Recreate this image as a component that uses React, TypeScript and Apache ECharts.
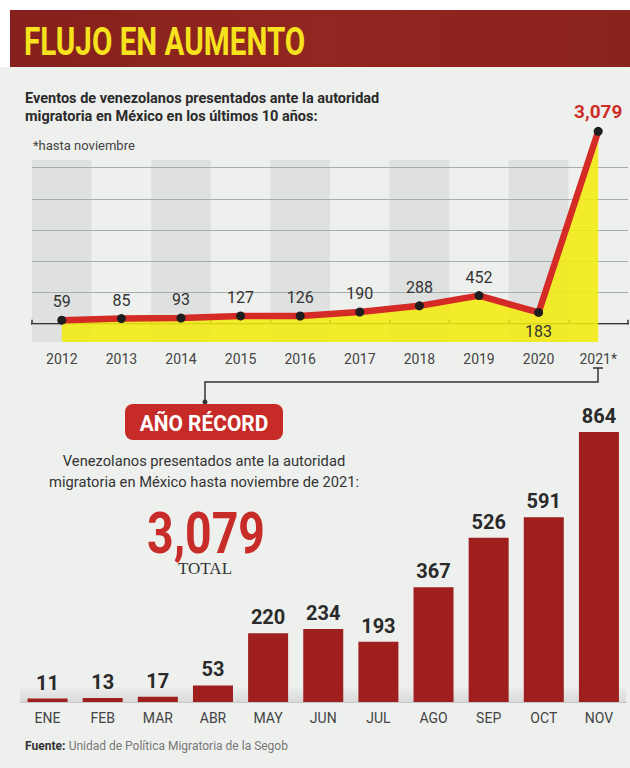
import React, { useEffect, useRef } from "react";
import * as echarts from "echarts";

const years = ["2012", "2013", "2014", "2015", "2016", "2017", "2018", "2019", "2020", "2021*"];
const yearValues = [59, 85, 93, 127, 126, 190, 288, 452, 183, 3079];
const months = ["ENE", "FEB", "MAR", "ABR", "MAY", "JUN", "JUL", "AGO", "SEP", "OCT", "NOV"];
const monthValues = [11, 13, 17, 53, 220, 234, 193, 367, 526, 591, 864];
const gridValues = [0, 500, 1000, 1500, 2000, 2500];

const SANS = "Roboto, 'Open Sans', sans-serif";

function txt(x: number, y: number, text: string, opts: any = {}, extra: any = {}) {
  const { align = "left", vAlign = "middle", ...rest } = opts;
  return {
    type: "text",
    x,
    y,
    ...extra,
    style: {
      text,
      fontFamily: SANS,
      align,
      textAlign: align,
      verticalAlign: vAlign,
      textVerticalAlign: vAlign,
      ...rest,
    },
  };
}

export default function App() {
  const ref = useRef<HTMLDivElement>(null);
  useEffect(() => {
    if (!ref.current) return;
    const chart = echarts.init(ref.current, null, { renderer: "svg", width: 630, height: 768 });
    const fmt = (p: any) => Number(p.value).toLocaleString("en-US");
    const lineData = yearValues.map((v, i) => {
      if (i === 8) return { value: v, label: { position: "bottom", distance: 7 } };
      if (i === yearValues.length - 1)
        return { value: v, label: { color: "#cf2e29", fontWeight: "bold", fontSize: 19, distance: 6 } };
      return v;
    });
    const option: any = {
      animation: false,
      backgroundColor: "#eef0ee",
      graphic: {
        elements: [
          { type: "rect", shape: { x: 0, y: 0, width: 630, height: 10 }, style: { fill: "#ffffff" } },
          { type: "rect", shape: { x: 0, y: 0, width: 10, height: 67 }, style: { fill: "#ffffff" } },
          {
            type: "rect",
            shape: { x: 10, y: 10, width: 620, height: 57 },
            style: {
              fill: new echarts.graphic.LinearGradient(0, 0, 1, 0, [
                { offset: 0, color: "#85201c" },
                { offset: 0.5, color: "#922620" },
                { offset: 1, color: "#8a221e" },
              ]),
            },
          },
          txt(24, 41, "FLUJO EN AUMENTO", { fill: "#f6e21d", fontSize: 39, fontWeight: "bold" }, { scaleX: 0.76 }),
          txt(25, 98, "Eventos de venezolanos presentados ante la autoridad", { fill: "#2b2b2b", fontSize: 14.5, fontWeight: "bold" }, { scaleX: 1 }),
          txt(25, 116, "migratoria en México en los últimos 10 años:", { fill: "#2b2b2b", fontSize: 14.5, fontWeight: "bold" }),
          txt(33, 145, "*hasta noviembre", { fill: "#444", fontSize: 13 }),
          {
            type: "polyline",
            shape: { points: [[598, 368], [598, 382], [205, 382], [205, 403]] },
            style: { stroke: "#333", lineWidth: 1.5, fill: null },
          },
          { type: "line", shape: { x1: 593, y1: 368, x2: 603, y2: 368 }, style: { stroke: "#333", lineWidth: 1.5 } },
          { type: "circle", shape: { cx: 205, cy: 402, r: 2.5 }, style: { fill: "#333" } },
          { type: "rect", shape: { x: 125, y: 404, width: 158, height: 36, r: 8 }, style: { fill: "#c62b28" } },
          txt(204, 423, "AÑO RÉCORD", { align: "center", fill: "#ffffff", fontSize: 22, fontWeight: "bold" }, { scaleX: 0.95 }),
          txt(204, 461, "Venezolanos presentados ante la autoridad", { align: "center", fill: "#333", fontSize: 14.7 }),
          txt(204, 482, "migratoria en México hasta noviembre de 2021:", { align: "center", fill: "#333", fontSize: 14.7 }),
          txt(206, 533, "3,079", { align: "center", fill: "#c72c28", fontSize: 58, fontWeight: "bold" }, { scaleX: 0.8 }),
          txt(205, 568, "TOTAL", { align: "center", fill: "#333", fontSize: 17, fontFamily: "'Liberation Serif', 'DejaVu Serif', serif" }),
          {
            type: "rect",
            shape: { x: 20, y: 686, width: 606, height: 16 },
            style: {
              fill: new echarts.graphic.LinearGradient(0, 0, 0, 1, [
                { offset: 0, color: "rgba(150,150,150,0)" },
                { offset: 1, color: "rgba(150,150,150,0.25)" },
              ]),
            },
          },
          {
            type: "text",
            x: 25,
            y: 746,
            style: {
              text: "{b|Fuente:} {n|Unidad de Política Migratoria de la Segob}",
              verticalAlign: "middle",
              textVerticalAlign: "middle",
              rich: {
                b: { fontFamily: SANS, fontSize: 12, fontWeight: "bold", fill: "#333", color: "#333" },
                n: { fontFamily: SANS, fontSize: 12, fill: "#777", color: "#777" },
              },
            },
          },
        ],
      },
      grid: [
        { left: 32, right: 2, top: 160, bottom: 426 },
        { left: 20, right: 3.5, top: 389.5, bottom: 66 },
      ],
      xAxis: [
        {
          type: "category",
          gridIndex: 0,
          data: years,
          axisLine: { lineStyle: { color: "#333", width: 2 } },
          axisTick: { show: true, inside: true, length: 4, lineStyle: { color: "#333", width: 1.5 } },
          axisLabel: { color: "#444", fontSize: 14, fontFamily: SANS, margin: 10 },
          splitArea: { show: true, areaStyle: { color: ["#dee1e0", "rgba(0,0,0,0)"] } },
          splitLine: { show: false },
        },
        {
          type: "category",
          gridIndex: 1,
          data: months,
          axisLine: { lineStyle: { color: "#c4c7c6", width: 1 } },
          axisTick: { show: false },
          axisLabel: { color: "#444", fontSize: 14, fontFamily: SANS, margin: 9 },
        },
      ],
      yAxis: [
        { type: "value", gridIndex: 0, min: -290, max: 2620, show: false, splitLine: { show: false } },
        { type: "value", gridIndex: 1, min: 0, max: 1000, show: false, splitLine: { show: false } },
      ],
      series: [
        {
          type: "line",
          xAxisIndex: 0,
          yAxisIndex: 0,
          data: lineData,
          clip: false,
          z: 3,
          symbol: "circle",
          symbolSize: 9,
          showSymbol: true,
          itemStyle: { color: "#1e1e1e", borderWidth: 0 },
          lineStyle: { color: "#d52b27", width: 6.5 },
          areaStyle: { color: "#f3ea10", opacity: 0.88, origin: "start" },
          label: {
            show: true,
            position: "top",
            distance: 6,
            color: "#333",
            fontSize: 16,
            fontFamily: SANS,
            formatter: fmt,
          },
          markLine: {
            silent: true,
            z: 1,
            symbol: "none",
            label: { show: false },
            lineStyle: { color: "#a9adab", width: 1, type: "solid" },
            data: gridValues.map((v) => ({ yAxis: v })),
          },
        },
        {
          type: "bar",
          xAxisIndex: 1,
          yAxisIndex: 1,
          data: monthValues,
          barWidth: 40,
          itemStyle: { color: "#9e1f1e" },
          label: {
            show: true,
            position: "top",
            distance: 6,
            color: "#2a2a2a",
            fontSize: 20,
            fontWeight: "bold",
            fontFamily: SANS,
          },
        },
      ],
    };
    chart.setOption(option);
    return () => chart.dispose();
  }, []);
  return (
    <div
      ref={ref}
      style={{ position: "fixed", left: 0, top: 0, width: 630, height: 768, background: "#eef0ee" }}
    />
  );
}
